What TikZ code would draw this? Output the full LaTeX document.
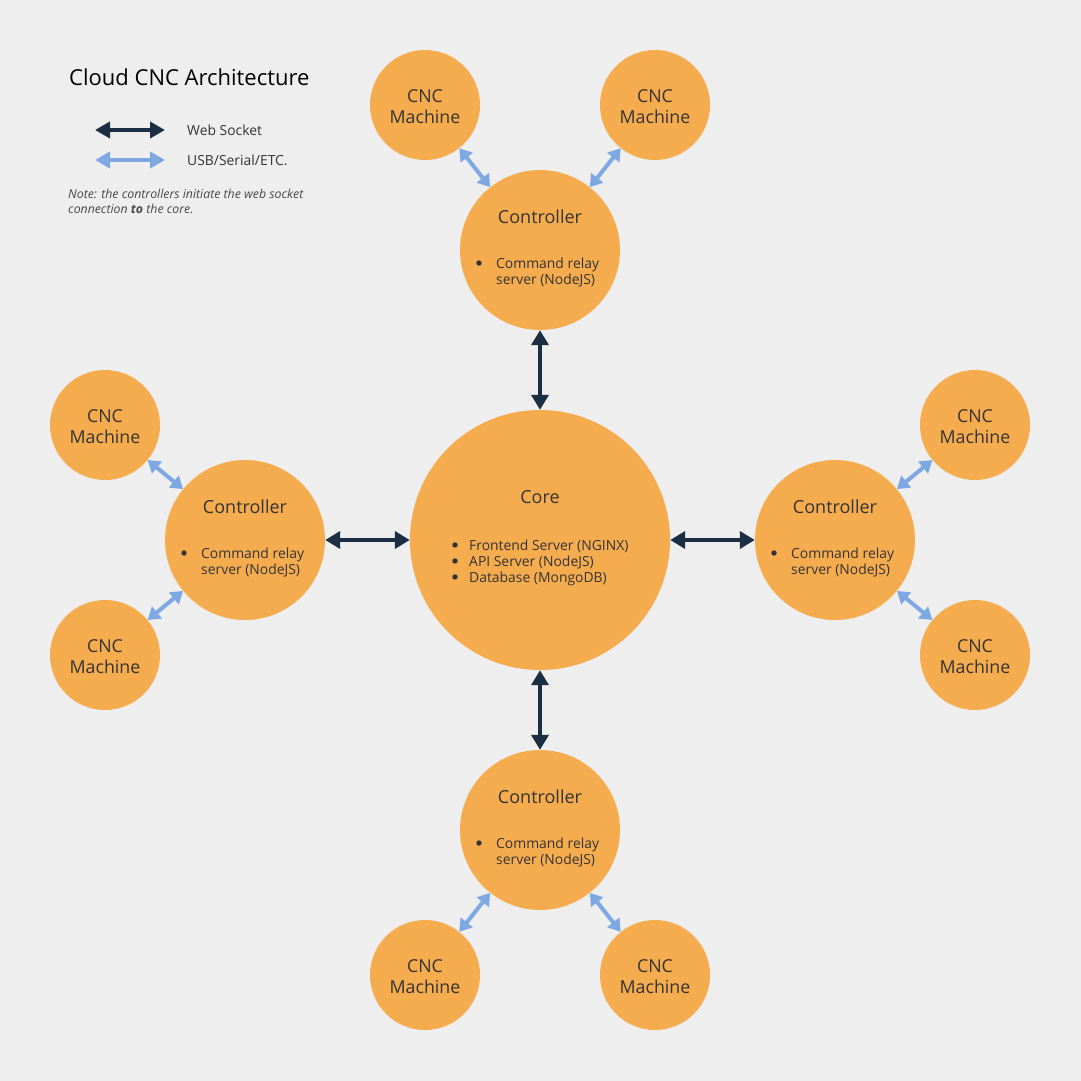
\documentclass[tikz,border=0pt]{standalone}
\usepackage{fontspec}
\setmainfont{Open Sans}
\usetikzlibrary{arrows.meta}
\definecolor{bgcol}{HTML}{EEEEEE}
\definecolor{boxcol}{HTML}{F5AC4F}
\definecolor{wscol}{HTML}{1B2E44}
\definecolor{usbcol}{HTML}{7EA8E2}
\definecolor{txtcol}{HTML}{333333}

\tikzset{
  corenode/.style={circle,fill=boxcol,minimum size=260pt,inner sep=0pt},
  ctrlnode/.style={circle,fill=boxcol,minimum size=160pt,inner sep=0pt},
  cncnode/.style={circle,fill=boxcol,minimum size=110pt,inner sep=0pt},
  cnctext/.style={inner sep=0pt,text=txtcol,font=\fontsize{17.8}{21}\selectfont,align=center},
  headtext/.style={inner sep=0pt,text=txtcol,font=\fontsize{18}{21}\selectfont},
  itemtext/.style={inner sep=0pt,text=txtcol,font=\fontsize{13.9}{16}\selectfont,align=left,anchor=west},
  ws/.style={line width=4pt,color=wscol,
    {Triangle[length=15pt,width=17pt]}-{Triangle[length=15pt,width=17pt]}},
  usb/.style={line width=4pt,color=usbcol,
    {Triangle[length=12pt,width=15pt]}-{Triangle[length=12pt,width=15pt]}},
  legendws/.style={line width=4.5pt,color=wscol,
    {Triangle[length=15pt,width=16pt]}-{Triangle[length=15pt,width=16pt]}},
  legendusb/.style={line width=4.5pt,color=usbcol,
    {Triangle[length=15pt,width=16pt]}-{Triangle[length=15pt,width=16pt]}},
}

\begin{document}
\begin{tikzpicture}[x=1pt,y=-1pt]
  \fill[bgcol] (0,0) rectangle (1081,1081);
  \useasboundingbox (0,0) rectangle (1081,1081);

  % title and legend
  \node[inner sep=0pt,anchor=west,font=\fontsize{22}{25}\selectfont] (title) at (69,77) {Cloud CNC Architecture};
  \coordinate (wsa) at (95,130);
  \coordinate (wsb) at (165,130);
  \coordinate (usba) at (95,160);
  \coordinate (usbb) at (165,160);
  \draw[legendws] (wsa) -- (wsb);
  \draw[legendusb] (usba) -- (usbb);
  \node[itemtext] (wslabel) at (187,130) {Web Socket};
  \node[itemtext] (usblabel) at (187,160) {USB/Serial/ETC.};
  \node[inner sep=0pt,anchor=north west,align=left,text=txtcol!90,
    font=\fontsize{12.3}{15}\itshape] (note) at (68,188.5)
    {Note: the controllers initiate the web socket\\connection {\bfseries to} the core.};

  % core
  \node[corenode] (core) at (540,540) {};
  \node[headtext] (core-t) at (540,497) {Core};
  \node[itemtext] (core-b) at (469,563) {Frontend Server (NGINX)\\API Server (NodeJS)\\Database (MongoDB)};
  \foreach \by in {545,561,577}
    \fill[txtcol] (455,\by) circle (2.7pt);

  % controllers
  \foreach \n/\x/\y in {ctop/540/250,cbot/540/830,cleft/245/540,cright/835/540} {
    \node[ctrlnode] (\n) at (\x,\y) {};
    \node[headtext] (\n-t) at (\x,\y-33) {Controller};
    \node[itemtext] (\n-b) at (\x-44,\y+23) {Command relay\\server (NodeJS)};
    \fill[txtcol] (\x-61,\y+13) circle (2.7pt);
  }

  % machines
  \foreach \n/\x/\y in {mta/425/105,mtb/655/105,mba/425/975,mbb/655/975,
                       mla/105/425,mlb/105/655,mra/975/425,mrb/975/655} {
    \node[cncnode] (\n) at (\x,\y) {};
    \node[cnctext] (\n-t) at (\x,\y+2) {CNC\\Machine};
  }

  % web sockets
  \draw[ws] (core) -- (ctop);
  \draw[ws] (core) -- (cbot);
  \draw[ws] (core) -- (cleft);
  \draw[ws] (core) -- (cright);

  % usb links
  \draw[usb] (mta) -- (ctop);
  \draw[usb] (mtb) -- (ctop);
  \draw[usb] (mba) -- (cbot);
  \draw[usb] (mbb) -- (cbot);
  \draw[usb] (mla) -- (cleft);
  \draw[usb] (mlb) -- (cleft);
  \draw[usb] (mra) -- (cright);
  \draw[usb] (mrb) -- (cright);
\end{tikzpicture}
\end{document}
